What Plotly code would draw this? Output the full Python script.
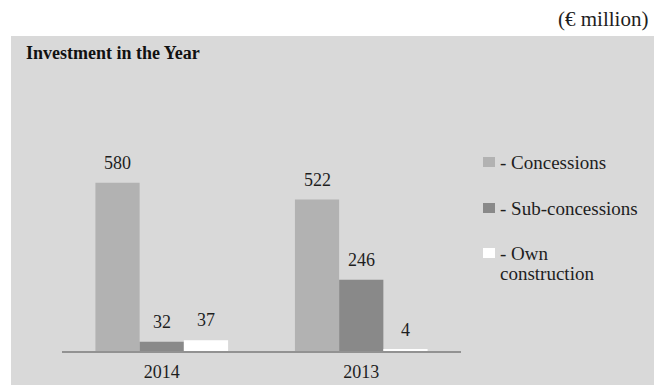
import plotly.graph_objects as go

# Investment in the year by type (€ million)
years = ["2014", "2013"]
concessions = [580, 522]
sub_concessions = [32, 246]
own_construction = [37, 4]

series_names = ["Concessions", "Sub-concessions", "Own construction"]
legend_lines = [["- Concessions"], ["- Sub-concessions"], ["- Own", "construction"]]
series_values = [concessions, sub_concessions, own_construction]
series_colors = ["#b2b2b2", "#898989", "#ffffff"]

FONT = "Liberation Serif"
TXT = "#1e1e1e"
W, H = 654, 385
L, R, T, B = 62, 193, 61, 34
plot_w = W - L - R
plot_h = H - T - B
BARGAP = 0.335


def px_x(x):
    return (x - L) / plot_w


def px_y(y):
    return (H - B - y) / plot_h


fig = go.Figure()
for name, vals, col in zip(series_names, series_values, series_colors):
    fig.add_trace(go.Bar(
        x=years, y=vals, name=name,
        marker=dict(color=col, line=dict(width=0)),
        hoverinfo="skip", showlegend=False,
    ))

# value labels above each bar (category index positions on the x axis)
bar_w = plot_w / len(years) * (1 - BARGAP) / len(series_values)
for i, vals in enumerate(series_values):
    for j, v in enumerate(vals):
        fig.add_annotation(
            x=j, y=v, xref="x", yref="y", text=str(v), showarrow=False,
            xshift=(i - 1) * bar_w, yshift=20,
            font=dict(family=FONT, size=18, color=TXT),
        )

# grey panel behind the chart
fig.add_shape(
    type="rect", xref="paper", yref="paper", layer="below",
    x0=px_x(11), x1=px_x(W), y0=px_y(H), y1=px_y(36),
    fillcolor="#d9d9d9", line=dict(width=0),
)

# legend: swatch plus label lines
legend_rows = [162, 208, 253]
for lines, col, yc in zip(legend_lines, series_colors, legend_rows):
    fig.add_shape(
        type="rect", xref="paper", yref="paper",
        x0=px_x(483), x1=px_x(495), y0=px_y(yc + 5), y1=px_y(yc - 5),
        fillcolor=col, line=dict(width=0),
    )
    for k, line in enumerate(lines):
        fig.add_annotation(
            text=line, xref="paper", yref="paper",
            x=px_x(498), y=px_y(yc + 20 * k), xanchor="left", yanchor="middle",
            showarrow=False, font=dict(family=FONT, size=19, color=TXT),
        )

fig.add_annotation(
    text="<b>Investment in the Year</b>", xref="paper", yref="paper",
    x=px_x(24), y=px_y(53), xanchor="left", yanchor="middle",
    showarrow=False, font=dict(family=FONT, size=18, color="#111111"),
)
fig.add_annotation(
    text="(€ million)", xref="paper", yref="paper",
    x=px_x(650), y=px_y(19), xanchor="right", yanchor="middle",
    showarrow=False, font=dict(family=FONT, size=21, color=TXT),
)

fig.update_layout(
    width=W, height=H,
    margin=dict(l=L, r=R, t=T, b=B, autoexpand=False),
    paper_bgcolor="#ffffff", plot_bgcolor="rgba(0,0,0,0)",
    barmode="group", bargap=BARGAP, bargroupgap=0,
    font=dict(family=FONT, size=18, color=TXT),
    showlegend=False,
    xaxis=dict(
        type="category", range=[-0.5, len(years) - 0.5], automargin=False,
        showgrid=False, showline=True, linecolor="#929292", linewidth=2,
        ticks="", ticklabelstandoff=3, tickfont=dict(family=FONT, size=18, color=TXT),
        fixedrange=True,
    ),
    yaxis=dict(
        range=[0, 1000], visible=False, showgrid=False, zeroline=False,
        automargin=False, fixedrange=True,
    ),
)

fig.write_html("out.html")
